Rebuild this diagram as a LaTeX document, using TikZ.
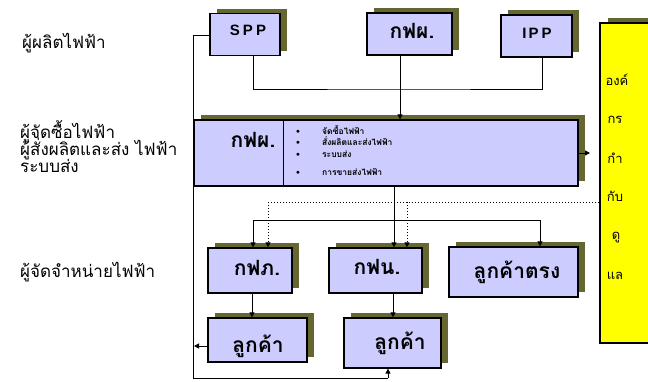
\documentclass[tikz,border=0pt]{standalone}
\usepackage{fontspec}
\setmainfont{Liberation Sans}
\newfontfamily\thaifont[Script=Thai]{Loma}
\usetikzlibrary{arrows.meta,calc,shadows}
\definecolor{boxfill}{HTML}{CCCCFF}
\definecolor{shade}{HTML}{666633}
\definecolor{regfill}{HTML}{FFFF00}
\tikzset{
  box/.style={draw=black,line width=1.2pt,fill=boxfill,inner sep=0pt,
    drop shadow={shadow xshift=7pt,shadow yshift=5pt,fill=shade,opacity=1}},
  regbox/.style={draw=black,line width=1.2pt,fill=regfill,inner sep=0pt,
    drop shadow={shadow xshift=8pt,shadow yshift=5pt,fill=shade,opacity=1}},
  conn/.style={line width=1pt,draw=black},
  arr/.style={conn,-{Triangle[length=5pt,width=5pt]}},
  dotarr/.style={conn,dotted,-{Triangle[length=5pt,width=5pt]}},
  rowlabel/.style={anchor=west,inner sep=0pt,font=\thaifont\fontsize{17}{20}\selectfont,align=left},
  boxlabel/.style={inner sep=0pt,font=\thaifont\bfseries\fontsize{21}{24}\selectfont},
  latlabel/.style={inner sep=0pt,font=\bfseries\fontsize{15}{17}\selectfont},
  bullet/.style={anchor=west,inner sep=0pt,font=\thaifont\bfseries\fontsize{8.5}{10}\selectfont},
  regtext/.style={inner sep=0pt,font=\thaifont\fontsize{13}{15}\selectfont}
}
\begin{document}
\begin{tikzpicture}[x=1pt,y=-1pt]
\useasboundingbox (0,0) rectangle (648,381);
\clip (0,0) rectangle (648,381);

% row labels
\node[rowlabel] (l1) at (22,43) {ผู้ผลิตไฟฟ้า};
\node[rowlabel] (l2) at (20,132) {ผู้จัดซื้อไฟฟ้า};
\node[rowlabel] (l3) at (20,149) {ผู้สั่งผลิตและส่ง ไฟฟ้า};
\node[rowlabel] (l4) at (20,166) {ระบบส่ง};
\node[rowlabel] (l5) at (20,272) {ผู้จัดจำหน่ายไฟฟ้า};

% regulator
\node[regbox,minimum width=52pt,minimum height=320pt] (reg) at (626,183) {};
\node[regtext] (r1) at (617,80) {องค์};
\node[regtext] (r2) at (615,120) {กร};
\node[regtext] (r3) at (615,158) {กำ};
\node[regtext] (r4) at (615,196) {กับ};
\node[regtext] (r5) at (616,238) {ดู};
\node[regtext] (r6) at (615,276) {แล};

% producers
\node[box,minimum width=70pt,minimum height=42pt] (spp) at (245,34.5) {};
\node[latlabel] at (248,30) {S\kern3pt P\kern3pt P};
\node[box,minimum width=85pt,minimum height=42pt] (gfp) at (409.5,34) {};
\node[boxlabel] at (412,31) {กฟผ.};
\node[box,minimum width=71pt,minimum height=42pt] (ipp) at (536.5,36) {};
\node[latlabel] at (537,33) {I\kern2pt P\kern3pt P};

% buyer box
\node[box,minimum width=384pt,minimum height=66pt] (big) at (386,153) {};
\draw[line width=1.2pt] ($(big.north west)+(90,0)$) -- ($(big.south west)+(90,0)$);
\node[boxlabel] at (253,140) {กฟผ.};
\node[bullet] (b1) at (296,130) {\textbullet\hspace{22pt}จัดซื้อไฟฟ้า};
\node[bullet] (b2) at (296,141) {\textbullet\hspace{22pt}สั่งผลิตและส่งไฟฟ้า};
\node[bullet] (b3) at (296,154) {\textbullet\hspace{22pt}ระบบส่ง};
\node[bullet] (b4) at (296,172) {\textbullet\hspace{22pt}การขายส่งไฟฟ้า};

% distributors
\node[box,minimum width=84pt,minimum height=45pt] (gfa) at (250,270.5) {};
\node[boxlabel] at (257,268) {กฟภ.};
\node[box,minimum width=93pt,minimum height=45pt] (gfn) at (375.5,270.5) {};
\node[boxlabel] at (377,267) {กฟน.};
\node[box,minimum width=129pt,minimum height=50pt] (dir) at (513.5,272) {};
\node[boxlabel] at (517,272) {ลูกค้าตรง};

% customers
\node[box,minimum width=99pt,minimum height=44pt] (c1) at (257.5,340) {};
\node[boxlabel] at (258,346) {ลูกค้า};
\node[box,minimum width=97pt,minimum height=50pt] (c2) at (392.5,343) {};
\node[boxlabel] at (400,343) {ลูกค้า};

% connectors: producers to buyer
\coordinate (bus1) at (400,89);
\draw[conn] ($(spp.south)+(8,0)$) |- (bus1) -| ($(ipp.south)+(5.5,0)$);
\draw[arr] ($(gfp.south)+(-9.5,0)$) -- (bus1 |- big.north);

% buyer to regulator
\coordinate (regin) at (590,153);
\draw[arr] (big.east) -- (regin);

% buyer down
\draw[arr] ($(big.south)+(8,0)$) -- ($(gfn.north)+(18.5,0)$);
\coordinate (busL) at (253,220);
\coordinate (busR) at (540,220);
\draw[conn] (busL) -- (busR);
\draw[arr] (busL) -- (busL |- gfa.north);
\draw[arr] (busR) -- (busR |- dir.north);

% dotted
\coordinate (dotL) at (268,202);
\coordinate (dotM) at (407,202);
\coordinate (dotR) at (600,202);
\draw[conn,dotted] (dotL) -- (dotR);
\draw[dotarr] (dotL) -- (dotL |- gfa.north);
\draw[dotarr] (dotM) -- (dotM |- gfn.north);

% distributors to customers
\draw[arr] ($(gfa.south)+(2,0)$) -- ($(c1.north)+(-5.5,0)$);
\draw[arr] ($(gfn.south)+(17.5,0)$) -- ($(c2.north)+(0.5,0)$);

% SPP direct line to customers
\coordinate (lt) at (193,35);
\coordinate (lm) at (193,346);
\coordinate (lb) at (193,378);
\coordinate (lb2) at (388,378);
\draw[conn] (spp.west |- lt) -- (lt) -- (lb) -- (lb2);
\draw[arr] (lb2) -- (lb2 |- c2.south);
\draw[arr] (lm -| c1.west) -- ($(lm)+(1,0)$);
\end{tikzpicture}
\end{document}
